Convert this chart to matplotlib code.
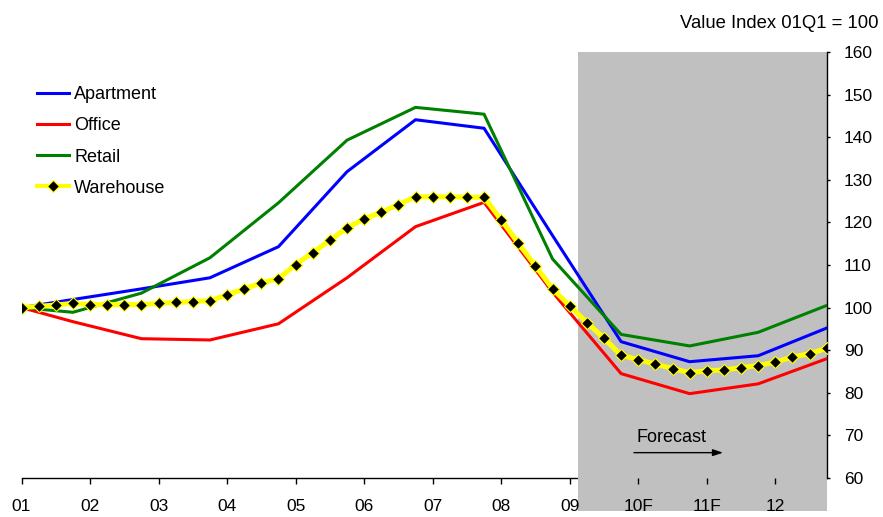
import matplotlib
matplotlib.use("Agg")
import matplotlib.pyplot as plt
from matplotlib.patches import Rectangle
import matplotlib.transforms as mtransforms

plt.rcParams['font.family'] = ['Liberation Sans', 'DejaVu Sans']

# ---------------- data ----------------
years = ["01", "02", "03", "04", "05", "06", "07", "08", "09", "10F", "11F", "12"]
quarters = [f"{y}Q{q}" for y in ["01", "02", "03", "04", "05", "06", "07", "08", "09", "10", "11", "12"] for q in range(1, 5)]

# annual (Q4) observation points for Apartment / Office / Retail
annual_points = ["01Q1", "01Q4", "02Q4", "03Q4", "04Q4", "05Q4", "06Q4",
                 "07Q4", "08Q4", "09Q4", "10Q4", "11Q4", "12Q4"]
apartment = [100, 101.9, 104.4, 107.0, 114.3, 131.9, 144.1, 142.1, 116.9, 92.0, 87.3, 88.7, 95.2]
office = [100, 96.7, 92.7, 92.4, 96.2, 107.0, 119.0, 124.7, 103.6, 84.5, 79.8, 82.1, 88.0]
retail = [100, 98.9, 103.4, 111.7, 124.6, 139.3, 147.0, 145.4, 111.4, 93.7, 91.0, 94.2, 100.5]

# quarterly Warehouse series
warehouse = [100.0, 100.3, 100.6, 101.0, 100.7, 100.7, 100.7, 100.7,
             101.0, 101.2, 101.4, 101.6, 103.0, 104.4, 105.8, 106.8,
             110.1, 112.9, 115.8, 118.7, 120.8, 122.4, 124.2, 126.0,
             126.0, 126.0, 125.9, 125.9, 120.6, 115.1, 109.8, 104.4,
             100.4, 96.5, 92.8, 88.8, 87.8, 86.7, 85.7, 84.7,
             85.2, 85.35, 85.9, 86.4, 87.2, 88.4, 89.2, 90.4]

forecast_start = 32.5  # quarter position where forecast shading begins
y_ticks = list(range(60, 161, 10))

# ---------------- figure ----------------
W, H = 883, 517
fig = plt.figure(figsize=(W / 100, H / 100), dpi=100)
ax = fig.add_axes([21.5 / W, (H - 478) / H, (826.7 - 21.5) / W, (478 - 52) / H])

qpos = {q: i for i, q in enumerate(quarters)}
xa = [qpos[q] for q in annual_points]
xq = list(range(len(quarters)))

ax.plot(xa, apartment, color="#0000FF", lw=2.2, label="Apartment", zorder=3)
ax.plot(xa, office, color="#FF0000", lw=2.2, label="Office", zorder=3)
ax.plot(xa, retail, color="#008000", lw=2.2, label="Retail", zorder=3)
ax.plot(xq, warehouse, color="#FFFF00", lw=3.6, marker="D", markersize=6.6,
        markerfacecolor="black", markeredgecolor="#FFFF00", markeredgewidth=0.8,
        label="Warehouse", zorder=4)

ax.set_xlim(0, len(quarters) - 1)
ax.set_ylim(60, 160)

# forecast shading (extends below the axis)
trans = mtransforms.blended_transform_factory(ax.transData, ax.transAxes)
below = (511 - 478) / (478 - 52)
rect = Rectangle((forecast_start, -below), len(quarters) - 1 - forecast_start, 1 + below,
                 transform=trans, facecolor="#C0C0C0", edgecolor="none",
                 clip_on=False, zorder=1)
ax.add_patch(rect)

# spines
for s in ["top", "left"]:
    ax.spines[s].set_visible(False)
ax.spines["bottom"].set_zorder(0.5)
ax.spines["bottom"].set_linewidth(1.0)
ax.spines["right"].set_linewidth(1.0)
ax.spines["right"].set_zorder(2)

ax.set_xticks([qpos[f"{y}Q1"] for y in ["01", "02", "03", "04", "05", "06", "07", "08", "09", "10", "11", "12"]])
ax.set_xticklabels(years)
ax.yaxis.tick_right()
ax.set_yticks(y_ticks)
ax.tick_params(axis="x", direction="out", length=4, width=1, pad=11, labelsize=12.5, colors="black")
ax.tick_params(axis="y", direction="out", length=2.5, width=1, pad=10, labelsize=12.5, colors="black")
ax.set_facecolor("white")

# legend
leg = ax.legend(loc="upper left", bbox_to_anchor=(37 / W, 1 - 86 / H), bbox_transform=fig.transFigure,
                frameon=False, fontsize=13, handlelength=1.75, handletextpad=0.3,
                labelspacing=0.79, borderpad=0, borderaxespad=0, numpoints=1)
leg.get_lines()[3].set_linewidth(3.0)

# annotations
fig.text(878 / W, 1 - 23 / H, "Value Index 01Q1 = 100", ha="right", va="center", fontsize=13.3)
ax.text(35.9, 68.4, "Forecast", ha="left", va="baseline", fontsize=13)
ax.annotate("", xy=(40.95, 65.95), xytext=(35.75, 65.95),
            arrowprops=dict(arrowstyle="-|>,head_length=0.6,head_width=0.2", color="black", lw=1.0,
                            shrinkA=0, shrinkB=0), zorder=5)

fig.savefig("out.png", dpi=100)
